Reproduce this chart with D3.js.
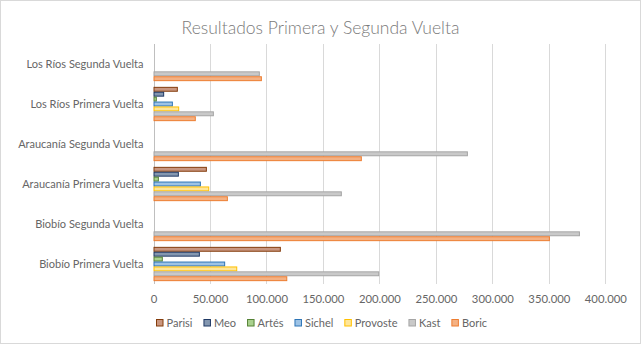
<!DOCTYPE html>
<html><head><meta charset="utf-8">
<script src="https://cdn.jsdelivr.net/npm/d3@7/dist/d3.min.js"></script>
<style>
body{margin:0;background:#fff}
svg{display:block}
text{font-family:Lato,"Open Sans",sans-serif}
</style></head>
<body><svg id="c" width="641" height="344"></svg>
<script>
// Categories, top to bottom
const categories = ["Los Ríos Segunda Vuelta","Los Ríos Primera Vuelta","Araucanía Segunda Vuelta","Araucanía Primera Vuelta","Biobío Segunda Vuelta","Biobío Primera Vuelta"];
const seriesNames = ["Parisi","Meo","Artés","Sichel","Provoste","Kast","Boric"];
// Values per category (same order as categories)
const parisi   = [0, 21100, 0, 46800, 0, 112300];
const meo      = [0,  9000, 0, 22000, 0,  40600];
const artes    = [0,  2500, 0,  4300, 0,   7800];
const sichel   = [0, 16700, 0, 41500, 0,  63000];
const provoste = [0, 22300, 0, 48900, 0,  73700];
const kast     = [93700, 53000, 277900, 166300, 377100, 199400];
const boric    = [95500, 37000, 184000, 65400, 350500, 118000];
const xTicks = [0,50000,100000,150000,200000,250000,300000,350000,400000];
const title = "Resultados Primera y Segunda Vuelta";

const seriesValues = [parisi, meo, artes, sichel, provoste, kast, boric];
const fills   = ["#C9967F","#8497B0","#A9D18E","#9DC3E6","#FFE699","#C9C9C9","#F4B183"];
const strokes = ["#843C0C","#1F3864","#548235","#2E75B6","#FFC000","#A5A5A5","#ED7D31"];

const svg = d3.select("#c");
const W = 641, H = 344;
const mLeft = 153.5, mRight = 605.3, mTop = 44, mBottom = 284;

svg.append("rect").attr("x",0.5).attr("y",0.5).attr("width",W-1).attr("height",H-1)
  .attr("fill","#fff").attr("stroke","#D9D9D9");

const x = d3.scaleLinear().domain([0,400000]).range([mLeft,mRight]);
const y = d3.scaleBand().domain(categories).range([mTop,mBottom]).paddingInner(0.1425).paddingOuter(0.0713);
const ys = d3.scaleBand().domain(seriesNames).range([0,y.bandwidth()]).padding(0);

// gridlines
svg.append("g").selectAll("line").data(xTicks).join("line")
  .attr("x1",d=>Math.round(x(d))+0.5).attr("x2",d=>Math.round(x(d))+0.5)
  .attr("y1",mTop).attr("y2",mBottom)
  .attr("stroke",d=>d===0?"#BFBFBF":"#D9D9D9").attr("stroke-width",1);

// bars
const data = [];
categories.forEach((c,i)=>seriesNames.forEach((s,j)=>{
  if(seriesValues[j][i]>0) data.push({c,s,j,v:seriesValues[j][i]});
}));
svg.append("g").selectAll("rect").data(data).join("rect")
  .attr("x",x(0)+0.5)
  .attr("y",d=>y(d.c)+ys(d.s)+0.5)
  .attr("width",d=>x(d.v)-x(0)-0.5)
  .attr("height",ys.bandwidth()-1)
  .attr("fill",d=>fills[d.j]).attr("stroke",d=>strokes[d.j]).attr("stroke-width",1);

// x axis labels
const xa = d3.axisBottom(x).tickValues(xTicks).tickSize(0).tickPadding(0)
  .tickFormat(d=>d===0?"0":d3.format(",")(d).replace(/,/g,"."));
const gx = svg.append("g").attr("transform",`translate(0,${mBottom})`).call(xa);
gx.select(".domain").remove();
gx.selectAll("text").attr("y",19).attr("dy",0).attr("fill","#666").style("font-size","11.3px")
  .style("font-family","Lato,'Open Sans',sans-serif");

// y axis labels
const ya = d3.axisLeft(y).tickSize(0).tickPadding(10);
const gy = svg.append("g").attr("transform",`translate(${mLeft},0)`).call(ya);
gy.select(".domain").remove();
gy.selectAll("text").attr("fill","#666").style("font-size","11px")
  .style("font-family","Lato,'Open Sans',sans-serif");

// title
svg.append("text").attr("x",320.5).attr("y",34).attr("text-anchor","middle")
  .attr("fill","#7a7a7a").style("font-size","17.5px").style("font-weight","300").text(title);

// legend
const lg = svg.append("g");
let cx = 0;
seriesNames.forEach((s,j)=>{
  const g = lg.append("g").attr("transform",`translate(${cx},0)`);
  g.append("rect").attr("x",0.5).attr("y",-3.5).attr("width",6.5).attr("height",6.5)
    .attr("fill",fills[j]).attr("stroke",strokes[j]);
  const t = g.append("text").attr("x",10.5).attr("y",4).attr("fill","#666")
    .style("font-size","11px").text(s);
  cx += 10.5 + t.node().getComputedTextLength() + 11;
});
cx -= 11;
lg.attr("transform",`translate(${Math.round(322 - cx/2)},323)`);
</script></body></html>
